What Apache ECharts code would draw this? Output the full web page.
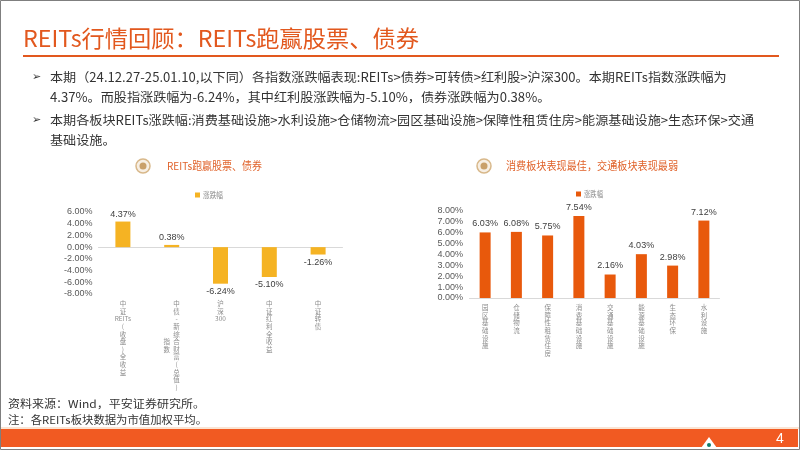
<!DOCTYPE html>
<html><head><meta charset="utf-8">
<script src="https://cdn.jsdelivr.net/npm/echarts@6/dist/echarts.min.js"></script>
<style>html,body{margin:0;padding:0;background:#fff}#c{width:802px;height:451px}</style>
</head><body><div id="c"></div>
<script>
// ---- data ----
const leftCats = ['中证REITs(收盘)全收益', '中债-新综合财富(总值)指数', '沪深300', '中证红利全收益', '中证转债'];
const leftVals = [4.37, 0.38, -6.24, -5.10, -1.26];
const rightCats = ['园区基础设施', '仓储物流', '保障性租赁住房', '消费基础设施', '交通基础设施', '能源基础设施', '生态环保', '水利设施'];
const rightVals = [6.03, 6.08, 5.75, 7.54, 2.16, 4.03, 2.98, 7.12];
const seriesName = '涨跌幅';
const pageTitle = 'REITs行情回顾：REITs跑赢股票、债券';
const bulletLines = [
  '本期（24.12.27-25.01.10,以下同）各指数涨跌幅表现:REITs>债券>可转债>红利股>沪深300。本期REITs指数涨跌幅为',
  '4.37%。而股指涨跌幅为-6.24%，其中红利股涨跌幅为-5.10%，债券涨跌幅为0.38%。',
  '本期各板块REITs涨跌幅:消费基础设施>水利设施>仓储物流>园区基础设施>保障性租赁住房>能源基础设施>生态环保>交通',
  '基础设施。'
];
const leftTitle = 'REITs跑赢股票、债券';
const rightTitle = '消费板块表现最佳，交通板块表现最弱';
const notes = ['资料来源：Wind，平安证券研究所。', '注：各REITs板块数据为市值加权平均。'];
const pageNo = '4';

// ---- helpers ----
const CJK = '"Noto Sans CJK SC", "Noto Sans", sans-serif';
const cv = document.createElement('canvas').getContext('2d');
function measure(text, size) { cv.font = size + 'px ' + CJK; return cv.measureText(text).width; }
function scaledText(text, left, cy, size, color, sx) {
  return { type: 'text', x: left, y: cy, scaleX: sx, silent: true,
    style: { text, font: size + 'px ' + CJK, fill: color, align: 'left', textAlign: 'left', verticalAlign: 'middle', textVerticalAlign: 'middle' } };
}
function fitText(text, left, right, cy, size, color) {
  return scaledText(text, left, cy, size, color, (right - left) / measure(text, size));
}
function vertical(name) {
  const toks = name.match(/[A-Za-z0-9.]+|./g);
  const maxCol = 12;
  if (toks.length <= maxCol) return toks.join('\n');
  const c1 = toks.slice(0, maxCol), c2 = toks.slice(maxCol);
  const start = Math.floor((c1.length - c2.length) / 2);
  return c1.map((t, i) => {
    const s = (i >= start && i < start + c2.length) ? c2[i - start] : '\u3000';
    return s + '\u2002' + t;
  }).join('\n');
}
function icon(cx, cy) {
  return [
    { type: 'circle', shape: { cx, cy, r: 7 }, style: { fill: '#F7EFE4', stroke: '#D8B88A', lineWidth: 1.5 }, silent: true },
    { type: 'circle', shape: { cx, cy, r: 3.5 }, style: { fill: '#C9A06A' }, silent: true }
  ];
}
function legendMark(x, cy, color, textRight) {
  return [
    { type: 'rect', shape: { x: x, y: cy - 2.5, width: 5, height: 5 }, style: { fill: color }, silent: true },
    fitText(seriesName, x + 8, textRight, cy, 8, '#8C8C8C')
  ];
}

const ORANGE = '#E2581E';
const bodyScale = (754 - 50) / measure(bulletLines[2], 12.5);
const graphics = [
  { type: 'rect', shape: { x: 0.5, y: 0.5, width: 799, height: 449 }, style: { fill: 'none', stroke: '#7F7F7F', lineWidth: 1 }, silent: true },
  fitText(pageTitle, 23, 419, 38, 23, ORANGE),
  { type: 'rect', shape: { x: 23, y: 55, width: 756, height: 2 }, style: { fill: ORANGE }, silent: true },
  { type: 'text', x: 32, y: 77, style: { text: '➢', font: '11px "DejaVu Sans"', fill: '#333', verticalAlign: 'middle', textVerticalAlign: 'middle' }, silent: true },
  { type: 'text', x: 32, y: 120, style: { text: '➢', font: '11px "DejaVu Sans"', fill: '#333', verticalAlign: 'middle', textVerticalAlign: 'middle' }, silent: true },
  scaledText(bulletLines[0], 50, 77, 12.5, '#333', bodyScale),
  scaledText(bulletLines[1], 50, 97, 12.5, '#333', bodyScale),
  scaledText(bulletLines[2], 50, 120, 12.5, '#333', bodyScale),
  scaledText(bulletLines[3], 50, 140, 12.5, '#333', bodyScale),
  ...icon(143, 166),
  fitText(leftTitle, 167, 262, 166, 11, '#E0622A'),
  ...icon(484, 166),
  fitText(rightTitle, 506, 678, 166, 11, '#E0622A'),
  ...legendMark(195, 195, '#F5B323', 223),
  ...legendMark(576, 194, '#E8590C', 603),
  fitText(notes[0], 8, 205, 404, 11, '#333'),
  fitText(notes[1], 8, 207, 420, 11, '#333'),
  { type: 'rect', shape: { x: 1, y: 427, width: 798, height: 2 }, style: { fill: '#FBE4D3' }, silent: true },
  { type: 'rect', shape: { x: 1, y: 429, width: 797, height: 18 }, style: { fill: '#F15A22' }, silent: true },
  { type: 'polygon', shape: { points: [[701, 448], [709, 437], [717, 448]] }, style: { fill: '#fff' }, silent: true },
  { type: 'circle', shape: { cx: 709, cy: 445, r: 2 }, style: { fill: '#0E7C6B' }, silent: true },
  { type: 'text', x: 780, y: 439, style: { text: pageNo, font: '14px "Liberation Sans"', fill: '#fff', align: 'center', textAlign: 'center', verticalAlign: 'middle', textVerticalAlign: 'middle' }, silent: true }
];

const pct = v => v.toFixed(2) + '%';
const catLabel = { interval: 0, formatter: vertical, fontSize: 6.5, lineHeight: 7.6, color: '#8C8C8C', fontFamily: CJK, margin: 6, align: 'center' };
const valLabel = { fontSize: 9, color: '#595959', fontFamily: '"Liberation Sans", Arial', formatter: pct };

const option = {
  animation: false,
  graphic: graphics,
  grid: [
    { left: 98.5, top: 212, width: 244, height: 82 },
    { left: 469.5, top: 211, width: 250, height: 87 }
  ],
  xAxis: [
    { gridIndex: 0, type: 'category', data: leftCats, axisLine: { show: false, onZero: false }, axisTick: { show: false }, axisLabel: catLabel },
    { gridIndex: 0, type: 'category', data: leftCats, position: 'bottom', axisLine: { show: true, onZero: true, lineStyle: { color: '#D9D9D9' } }, axisTick: { show: false }, axisLabel: { show: false } },
    { gridIndex: 1, type: 'category', data: rightCats, axisLine: { lineStyle: { color: '#D9D9D9' } }, axisTick: { show: false }, axisLabel: catLabel }
  ],
  yAxis: [
    { gridIndex: 0, type: 'value', min: -8, max: 6, interval: 2, splitLine: { show: false }, axisLine: { show: false }, axisTick: { show: false }, axisLabel: Object.assign({ margin: 6 }, valLabel) },
    { gridIndex: 1, type: 'value', min: 0, max: 8, interval: 1, splitLine: { show: false }, axisLine: { show: false }, axisTick: { show: false }, axisLabel: Object.assign({ margin: 6.5 }, valLabel) }
  ],
  series: [
    { name: seriesName, type: 'bar', xAxisIndex: 0, yAxisIndex: 0, barWidth: 15, itemStyle: { color: '#F5B323' },
      data: leftVals.map(v => ({ value: v, label: { position: v < 0 ? 'bottom' : 'top' } })),
      label: { show: true, distance: 3, fontSize: 9, color: '#404040', fontFamily: '"Liberation Sans", Arial', formatter: p => pct(p.value) } },
    { name: seriesName, type: 'bar', xAxisIndex: 2, yAxisIndex: 1, barWidth: 11, itemStyle: { color: '#E8590C' },
      data: rightVals,
      label: { show: true, position: 'top', distance: 4, fontSize: 9, color: '#404040', fontFamily: '"Liberation Sans", Arial', formatter: p => pct(p.value) } }
  ]
};
const chart = echarts.init(document.getElementById('c'), null, { renderer: 'canvas' });
chart.setOption(option);
</script></body></html>
